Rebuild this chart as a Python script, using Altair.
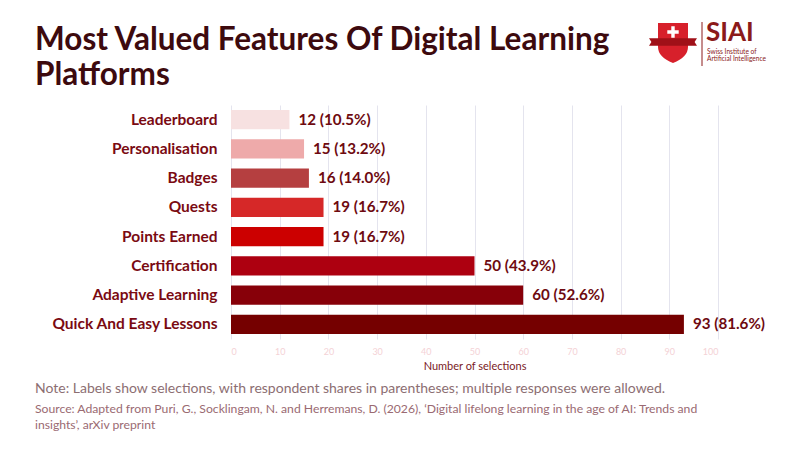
import altair as alt
import pandas as pd

features = ["Leaderboard", "Personalisation", "Badges", "Quests", "Points Earned",
            "Certification", "Adaptive Learning", "Quick And Easy Lessons"]
counts = [12, 15, 16, 19, 19, 50, 60, 93]
shares = [10.5, 13.2, 14.0, 16.7, 16.7, 43.9, 52.6, 81.6]
colors = ["#f7e1e1", "#eeaaaa", "#b53f40", "#d62828", "#cc0000",
          "#ad0010", "#870009", "#750000"]

title_lines = ["Most Valued Features Of Digital Learning", "Platforms"]
note_text = "Note: Labels show selections, with respondent shares in parentheses; multiple responses were allowed."
source_lines = ["Source: Adapted from Puri, G., Socklingam, N. and Herremans, D. (2026), \u2018Digital lifelong learning in the age of AI: Trends and",
                "insights\u2019, arXiv preprint"]
logo_lines = ["Swiss Institute of", "Artificial Intelligence"]

FONT = "Lato"

df = pd.DataFrame({
    "feature": features,
    "count": counts,
    "share": shares,
    "color": colors,
})
df["label"] = [f"{c} ({s:.1f}%)" for c, s in zip(counts, shares)]

W, H = 487, 234

base = alt.Chart(df)

bars = base.mark_bar().encode(
    y=alt.Y("feature:N", sort=features,
            scale=alt.Scale(paddingInner=0.34, paddingOuter=0.17),
            axis=alt.Axis(title=None, labelFont=FONT, labelFontSize=15.5,
                          labelFontWeight="bold", labelColor="#7a0a12",
                          labelPadding=14, ticks=False, domain=False, grid=False)),
    x=alt.X("count:Q", scale=alt.Scale(domain=[0, 100], nice=False),
            axis=alt.Axis(title="Number of selections", values=list(range(0, 101, 10)),
                          labelFont=FONT, labelFontSize=9, labelColor="#f4d2d6",
                          titleFont=FONT, titleFontSize=11, titleFontWeight="normal",
                          titleColor="#7a1a25", titlePadding=4, labelPadding=8,
                          domain=False, ticks=False, grid=True,
                          gridColor="#e4e4ee", gridWidth=1)),
    color=alt.Color("color:N", scale=None),
)

labels = base.mark_text(align="left", baseline="middle", dx=9, font=FONT,
                        fontSize=15.2, fontWeight="bold", color="#6e0a10").encode(
    y=alt.Y("feature:N", sort=features),
    x="count:Q",
    text="label:N",
)


def text_line(txt, x, y, **kw):
    return alt.Chart(pd.DataFrame({"t": [txt]})).mark_text(
        align="left", baseline="alphabetic", font=FONT, **kw).encode(
        text="t:N", x=alt.value(x), y=alt.value(y))


title = (text_line(title_lines[0], -196, -55, fontSize=31.5, fontWeight="bold", color="#3d0a0e")
         + text_line(title_lines[1], -196, -20, fontSize=31.5, fontWeight="bold", color="#3d0a0e"))

note = text_line(note_text, -196, 288, fontSize=14, color="#8c6e72")
source = (text_line(source_lines[0], -196, 308, fontSize=12.2, color="#9a6a72")
          + text_line(source_lines[1], -196, 324, fontSize=12.2, color="#9a6a72"))

# Logo
one = pd.DataFrame({"a": [0]})
shield = alt.Chart(one).mark_point(
    shape="M -0.75 -1 L 0.75 -1 L 0.75 0.2 Q 0.75 0.7 0 1 Q -0.75 0.7 -0.75 0.2 Z",
    filled=True, size=1600, color="#d7202b", opacity=1).encode(
    x=alt.value(442), y=alt.value(-62))
ribbon = alt.Chart(one).mark_point(
    shape="M -1 -0.16 L 1 -0.16 L 0.9 0 L 1 0.16 L -1 0.16 L -0.9 0 Z",
    filled=True, size=2304, color="#a01018", opacity=1).encode(
    x=alt.value(442), y=alt.value(-63))
cross = alt.Chart(one).mark_point(
    shape="M -0.3 -1 L 0.3 -1 L 0.3 -0.3 L 1 -0.3 L 1 0.3 L 0.3 0.3 L 0.3 1 L -0.3 1 L -0.3 0.3 L -1 0.3 L -1 -0.3 L -0.3 -0.3 Z",
    filled=True, size=130, color="white", opacity=1).encode(
    x=alt.value(442), y=alt.value(-73))
divider = alt.Chart(one).mark_rule(color="#8b1a1a", strokeWidth=1).encode(
    x=alt.value(471), y=alt.value(-83), y2=alt.value(-39))
siai = text_line("SIAI", 475, -64.5, fontSize=26, fontWeight="bold", color="#8b1a1a")
siai_sub = (text_line(logo_lines[0], 476, -51.5, fontSize=6.6, color="#8b1a1a")
            + text_line(logo_lines[1], 476, -44.5, fontSize=6.6, color="#8b1a1a"))

chart = alt.layer(bars, labels, title, note, source, shield, ribbon, cross, divider,
                  siai, siai_sub).properties(
    width=W, height=H,
    autosize=alt.AutoSizeParams(type="none"),
    padding={"left": 223, "top": 97, "right": 74, "bottom": 103},
    background="white",
).configure_view(stroke=None)

chart.save("out.html", embed_options={"renderer": "svg", "actions": False})
